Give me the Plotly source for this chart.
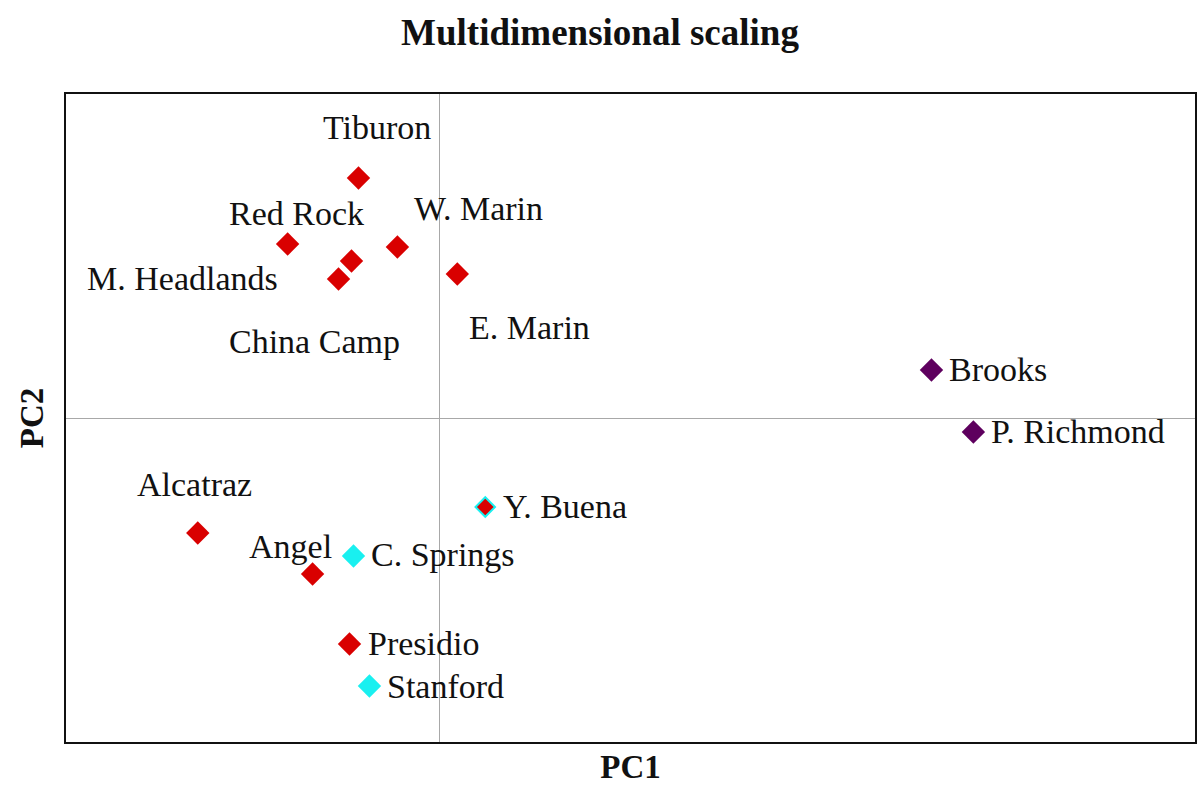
import plotly.graph_objects as go

# MDS coordinates (arbitrary units)
sites = ["Tiburon", "Red Rock", "W. Marin", "China Camp", "M. Headlands", "E. Marin",
         "Brooks", "P. Richmond", "Y. Buena", "Alcatraz", "C. Springs", "Angel",
         "Presidio", "Stanford"]
pc1 = [-0.81, -1.52, -0.42, -0.88, -1.01, 0.18, 4.93, 5.35, 0.46, -2.42, -0.86, -1.27, -0.90, -0.70]
pc2 = [2.40, 1.74, 1.71, 1.57, 1.39, 1.44, 0.48, -0.14, -0.89, -1.15, -1.38, -1.56, -2.26, -2.68]
group = ["red", "red", "red", "red", "red", "red", "purple", "purple", "mixed", "red",
         "cyan", "red", "red", "cyan"]

# label placement (pixel shifts from the marker, anchor)
label_pos = {
    "Tiburon": (19, 51, "center"), "Red Rock": (9, 31, "center"), "W. Marin": (81, 39, "center"),
    "China Camp": (-37, -80, "center"), "M. Headlands": (-156, 1, "center"),
    "E. Marin": (72, -53, "center"), "Brooks": (16, 1, "left"), "P. Richmond": (16, 1, "left"),
    "Y. Buena": (16, 1, "left"), "Alcatraz": (-3, 49, "center"), "Angel": (-22, 28, "center"),
    "C. Springs": (16, 2, "left"), "Presidio": (16, 1, "left"), "Stanford": (16, 0, "left"),
}

colors = {"red": "#d90000", "purple": "#5e005e", "cyan": "#19f0f0"}
serif = "Palatino Linotype, Book Antiqua, Palatino, Liberation Serif, serif"

fig = go.Figure()
for g in ["red", "purple", "cyan"]:
    idx = [i for i, v in enumerate(group) if v == g]
    fig.add_trace(go.Scatter(
        x=[pc1[i] for i in idx], y=[pc2[i] for i in idx], mode="markers",
        marker=dict(symbol="diamond", size=18, color=colors[g]),
        showlegend=False, hoverinfo="text", text=[sites[i] for i in idx]))

idx = [i for i, v in enumerate(group) if v == "mixed"]
fig.add_trace(go.Scatter(
    x=[pc1[i] for i in idx], y=[pc2[i] for i in idx], mode="markers",
    marker=dict(symbol="diamond", size=15, color=colors["red"],
                line=dict(color=colors["cyan"], width=2)),
    showlegend=False, hoverinfo="text", text=[sites[i] for i in idx]))

for i, s in enumerate(sites):
    dx, dy, anchor = label_pos[s]
    fig.add_annotation(x=pc1[i], y=pc2[i], text=s, showarrow=False,
                       xanchor=anchor, yanchor="middle", xshift=dx, yshift=dy,
                       font=dict(family=serif, size=34, color="#111111"))

axis_common = dict(showgrid=False, showticklabels=False, ticks="", zeroline=True,
                   zerolinecolor="#a8a8a8", zerolinewidth=1.2,
                   showline=True, linecolor="#111111", linewidth=2, mirror=True)

fig.update_layout(
    width=1200, height=795,
    paper_bgcolor="white", plot_bgcolor="white",
    margin=dict(l=66, r=3, t=94, b=53),
    title=dict(text="<b>Multidimensional scaling</b>", x=0.5, xanchor="center",
               y=1 - 32 / 795, yanchor="middle",
               font=dict(family=serif, size=37, color="#111111")),
    xaxis=dict(range=[-3.74, 7.57], title=dict(text="<b>PC1</b>", standoff=12,
               font=dict(family=serif, size=33, color="#111111")), **axis_common),
    yaxis=dict(range=[-3.24, 3.24], title=dict(text="<b>PC2</b>", standoff=10,
               font=dict(family=serif, size=33, color="#111111")), **axis_common),
)

# drop the default body margin / scrollbars so the figure fills the window exactly
fig.write_html("out.html", config={"displayModeBar": False},
               post_script="document.body.style.margin='0';document.body.style.overflow='hidden';")
